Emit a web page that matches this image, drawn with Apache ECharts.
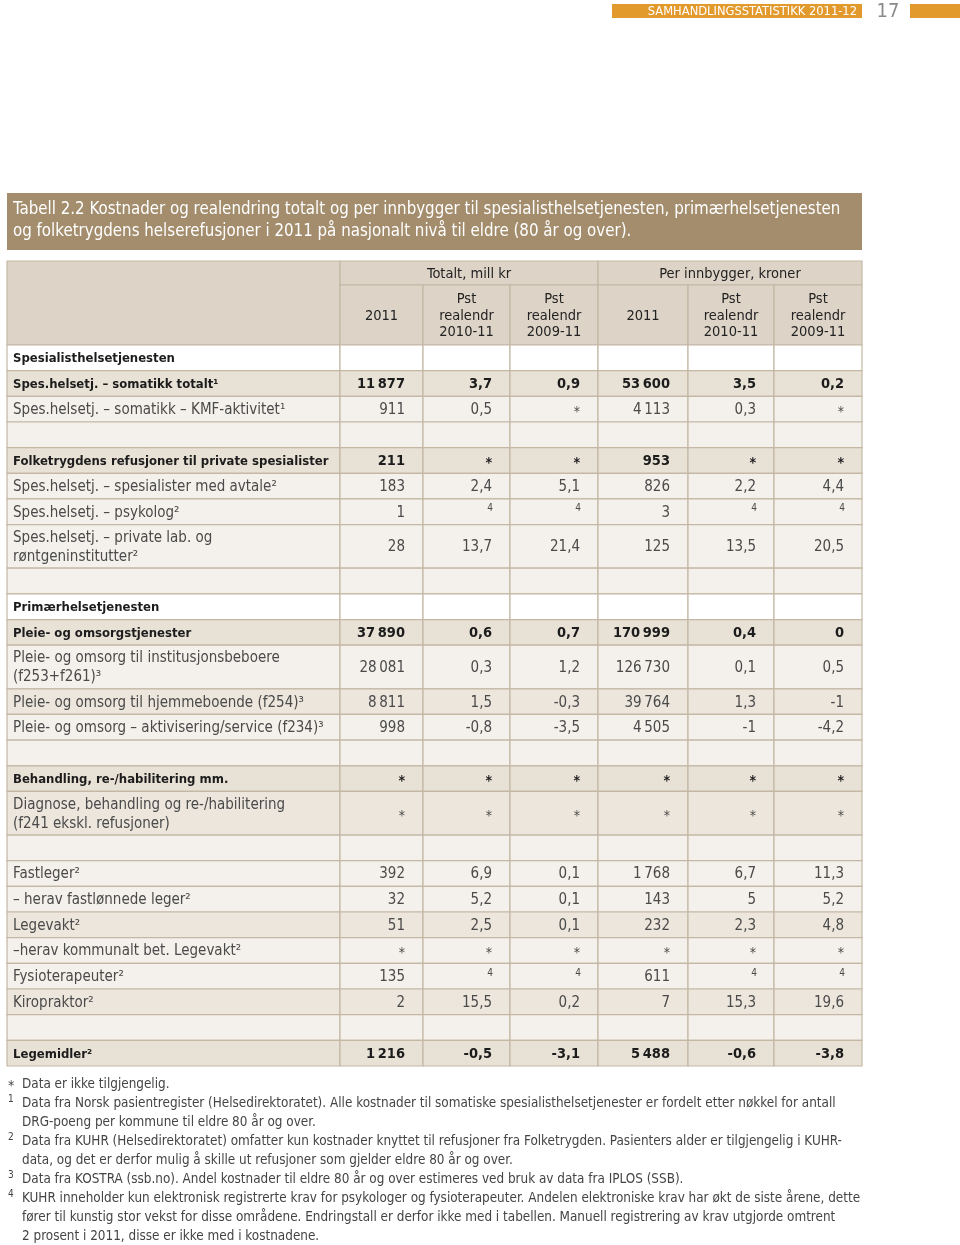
<!DOCTYPE html>
<html><head><meta charset="utf-8">
<script src="https://cdn.jsdelivr.net/npm/echarts@6/dist/echarts.min.js"></script>
<style>html,body{margin:0;padding:0;background:#fff}#c{width:960px;height:1245px}</style>
</head><body><div id="c"></div>
<script>
// ---------- DATA ----------
const pageHeader = 'SAMHANDLINGSSTATISTIKK 2011-12';
const pageNumber = '17';
const titleLines = [
  'Tabell 2.2 Kostnader og realendring totalt og per innbygger til spesialisthelsetjenesten, primærhelsetjenesten',
  'og folketrygdens helserefusjoner i 2011 på nasjonalt nivå til eldre (80 år og over).'
];
const headerGroups = ['Totalt, mill kr', 'Per innbygger, kroner'];
const columnHeaders = ['2011', 'Pst\nrealendr\n2010-11', 'Pst\nrealendr\n2009-11', '2011', 'Pst\nrealendr\n2010-11', 'Pst\nrealendr\n2009-11'];

const rowLabels = [
  'Spesialisthelsetjenesten',
  'Spes.helsetj. – somatikk totalt¹',
  'Spes.helsetj. – somatikk – KMF-aktivitet¹',
  '',
  'Folketrygdens refusjoner til private spesialister',
  'Spes.helsetj. – spesialister med avtale²',
  'Spes.helsetj. – psykolog²',
  'Spes.helsetj. – private lab. og\nrøntgeninstitutter²',
  '',
  'Primærhelsetjenesten',
  'Pleie- og omsorgstjenester',
  'Pleie- og omsorg til institusjonsbeboere\n(f253+f261)³',
  'Pleie- og omsorg til hjemmeboende (f254)³',
  'Pleie- og omsorg – aktivisering/service (f234)³',
  '',
  'Behandling, re-/habilitering mm.',
  'Diagnose, behandling og re-/habilitering\n(f241 ekskl. refusjoner)',
  '',
  'Fastleger²',
  '– herav fastlønnede leger²',
  'Legevakt²',
  '–herav kommunalt bet. Legevakt²',
  'Fysioterapeuter²',
  'Kiropraktor²',
  '',
  'Legemidler²'
];
// row kinds: sec = section heading, bold = sum row, norm = detail row, empty = spacer
const rowKinds = ['sec','bold','norm','empty','bold','norm','norm','norm','empty','sec','bold','norm','norm','norm','empty','bold','norm','empty','norm','norm','norm','norm','norm','norm','empty','bold'];
const rowShade = ['w','d','l','l','d','l','l','l','l','w','d','l','m','l','l','d','m','l','l','l','m','l','l','m','l','d'];

// '*' = data not available, 'n4' = footnote 4, null = empty
const total2011 =     [null, 11877, 911, null, 211, 183, 1, 28, null, null, 37890, 28081, 8811, 998, null, '*', '*', null, 392, 32, 51, '*', 135, 2, null, 1216];
const totalChg1011 =  [null, 3.7, 0.5, null, '*', 2.4, 'n4', 13.7, null, null, 0.6, 0.3, 1.5, -0.8, null, '*', '*', null, 6.9, 5.2, 2.5, '*', 'n4', 15.5, null, -0.5];
const totalChg0911 =  [null, 0.9, '*', null, '*', 5.1, 'n4', 21.4, null, null, 0.7, 1.2, -0.3, -3.5, null, '*', '*', null, 0.1, 0.1, 0.1, '*', 'n4', 0.2, null, -3.1];
const perCap2011 =    [null, 53600, 4113, null, 953, 826, 3, 125, null, null, 170999, 126730, 39764, 4505, null, '*', '*', null, 1768, 143, 232, '*', 611, 7, null, 5488];
const perCapChg1011 = [null, 3.5, 0.3, null, '*', 2.2, 'n4', 13.5, null, null, 0.4, 0.1, 1.3, -1, null, '*', '*', null, 6.7, 5, 2.3, '*', 'n4', 15.3, null, -0.6];
const perCapChg0911 = [null, 0.2, '*', null, '*', 4.4, 'n4', 20.5, null, null, 0, 0.5, -1, -4.2, null, '*', '*', null, 11.3, 5.2, 4.8, '*', 'n4', 19.6, null, -3.8];

const footMarks = ['*', '1', '', '2', '', '3', '4', '', ''];
const footLines = [
  'Data er ikke tilgjengelig.',
  'Data fra Norsk pasientregister (Helsedirektoratet). Alle kostnader til somatiske spesialisthelsetjenester er fordelt etter nøkkel for antall',
  'DRG-poeng per kommune til eldre 80 år og over.',
  'Data fra KUHR (Helsedirektoratet) omfatter kun kostnader knyttet til refusjoner fra Folketrygden. Pasienters alder er tilgjengelig i KUHR-',
  'data, og det er derfor mulig å skille ut refusjoner som gjelder eldre 80 år og over.',
  'Data fra KOSTRA (ssb.no). Andel kostnader til eldre 80 år og over estimeres ved bruk av data fra IPLOS (SSB).',
  'KUHR inneholder kun elektronisk registrerte krav for psykologer og fysioterapeuter. Andelen elektroniske krav har økt de siste årene, dette',
  'fører til kunstig stor vekst for disse områdene. Endringstall er derfor ikke med i tabellen. Manuell registrering av krav utgjorde omtrent',
  '2 prosent i 2011, disse er ikke med i kostnadene.'
];

// ---------- LAYOUT / STYLE ----------
const FONT = '"Liberation Sans Narrow", "DejaVu Sans Condensed", "Roboto Condensed", "Liberation Sans", sans-serif';
const colWidths = [333, 83, 87, 88, 90, 86, 88];
const headH = [24, 60];
const singleH = 25.66, doubleH = 43.6;
const fills = { h: '#ddd4c7', w: '#ffffff', d: '#e8e1d6', m: '#ece6dd', l: '#f4f1ec' };
const STROKE = '#c4b8a5';
const NORMAL_SIZE = 15, BOLD_SIZE = 13, BOLD_NUM_SIZE = 14.5, HEAD_SIZE = 14.5;

const valueCols = [total2011, totalChg1011, totalChg0911, perCap2011, perCapChg1011, perCapChg0911];
function fmt(v) {
  if (v === null || v === undefined) return '';
  if (typeof v === 'string') return v;
  if (Number.isInteger(v)) {
    const s = Math.abs(v).toString().replace(/\B(?=(\d{3})+(?!\d))/g, '\u2009');
    return (v < 0 ? '-' : '') + s;
  }
  return v.toString().replace('.', ',');
}

const colEdges = [0];
colWidths.forEach(w => colEdges.push(colEdges[colEdges.length - 1] + w));
const rowEdges = [0, headH[0], headH[0] + headH[1]];
rowLabels.forEach(l => rowEdges.push(rowEdges[rowEdges.length - 1] + (l.indexOf('\n') >= 0 ? doubleH : singleH)));
const totalW = colEdges[colEdges.length - 1];
const totalH = rowEdges[rowEdges.length - 1];

const cells = [];
// header cells
cells.push({ x0: 0, x1: colEdges[1], y0: 0, y1: rowEdges[2], fill: fills.h, text: '' });
headerGroups.forEach((g, gi) => {
  cells.push({ x0: colEdges[1 + gi * 3], x1: colEdges[4 + gi * 3], y0: 0, y1: rowEdges[1], fill: fills.h, text: g, align: 'center', weight: 'normal', color: '#222', size: HEAD_SIZE });
});
columnHeaders.forEach((h, ci) => {
  cells.push({ x0: colEdges[ci + 1], x1: colEdges[ci + 2], y0: rowEdges[1], y1: rowEdges[2], fill: fills.h, text: h, align: 'center', weight: 'normal', color: '#222', lh: 16.5, size: HEAD_SIZE });
});
// body cells
rowLabels.forEach((lab, r) => {
  const kind = rowKinds[r];
  const strong = kind === 'bold' || kind === 'sec';
  const fill = fills[rowShade[r]];
  const y0 = rowEdges[r + 2], y1 = rowEdges[r + 3];
  cells.push({ x0: 0, x1: colEdges[1], y0, y1, fill, text: lab, align: 'left', weight: strong ? 'bold' : 'normal', color: strong ? '#1c1c1c' : '#4a4a4a', lh: 19, size: strong ? BOLD_SIZE : NORMAL_SIZE });
  valueCols.forEach((col, ci) => {
    const v = col[r];
    cells.push({ x0: colEdges[ci + 1], x1: colEdges[ci + 2], y0, y1, fill, text: v === 'n4' ? '4' : fmt(v), note: v === 'n4', star: v === '*', align: 'right', weight: strong ? 'bold' : 'normal', color: strong ? '#1c1c1c' : '#4a4a4a', size: strong ? BOLD_NUM_SIZE : NORMAL_SIZE });
  });
});

function renderCell(params, api) {
  const c = cells[api.value(4)];
  const p0 = api.coord([api.value(0), api.value(2)]);
  const p1 = api.coord([api.value(1), api.value(3)]);
  const x = Math.min(p0[0], p1[0]), y = Math.min(p0[1], p1[1]);
  const w = Math.abs(p1[0] - p0[0]), h = Math.abs(p1[1] - p0[1]);
  const children = [{ type: 'rect', shape: { x, y, width: w, height: h }, style: { fill: c.fill, stroke: STROKE, lineWidth: 1.2 } }];
  if (c.text) {
    let tx = c.align === 'left' ? x + 6 : c.align === 'right' ? x + w - 18 : x + w / 2;
    let ty = y + h / 2 + 1;
    let size = c.size || NORMAL_SIZE;
    if (c.note) { size = 10; ty -= 4; tx += 1; }
    if (c.star) { ty += 2; size = Math.min(size, 14); }
    children.push({
      type: 'text',
      style: {
        text: c.text, x: tx, y: ty, align: c.align, verticalAlign: 'middle',
        fill: c.color, fontFamily: FONT, fontSize: size, fontWeight: c.weight,
        lineHeight: c.lh || size + 3
      }
    });
  }
  return { type: 'group', children };
}

// ---------- CHART ----------
const chart = echarts.init(document.getElementById('c'), null, { renderer: 'canvas' });
const graphics = [
  { type: 'rect', shape: { x: 612, y: 4, width: 250, height: 14 }, style: { fill: '#e39a2d' } },
  { type: 'text', style: { text: pageHeader, x: 857, y: 11.5, align: 'right', verticalAlign: 'middle', fill: '#fff', fontFamily: FONT, fontSize: 12.8 } },
  { type: 'text', style: { text: pageNumber, x: 888, y: 12, align: 'center', verticalAlign: 'middle', fill: '#8a8a8a', fontFamily: FONT, fontSize: 20 } },
  { type: 'rect', shape: { x: 910, y: 4, width: 50, height: 14 }, style: { fill: '#e39a2d' } },
  { type: 'rect', shape: { x: 7, y: 193, width: 855, height: 57 }, style: { fill: '#a38d6d' } },
  { type: 'text', style: { text: titleLines.join('\n'), x: 13, y: 199, align: 'left', verticalAlign: 'top', fill: '#fff', fontFamily: FONT, fontSize: 16.75, lineHeight: 21.5 } },
  { type: 'text', style: { text: footLines.join('\n'), x: 22, y: 1075, align: 'left', verticalAlign: 'top', fill: '#444', fontFamily: FONT, fontSize: 13.4, lineHeight: 19 } }
];
footMarks.forEach((m, i) => {
  if (!m) return;
  const star = m === '*';
  graphics.push({ type: 'text', style: { text: m, x: 8, y: 1084 + i * 19 + (star ? 2 : -4), align: 'left', verticalAlign: 'middle', fill: '#444', fontFamily: FONT, fontSize: star ? 14 : 10 } });
});

chart.setOption({
  animation: false,
  backgroundColor: '#ffffff',
  grid: { left: 7, top: 261, width: totalW, height: totalH },
  xAxis: { type: 'value', min: 0, max: totalW, show: false },
  yAxis: { type: 'value', min: 0, max: totalH, inverse: true, show: false },
  graphic: graphics,
  series: [{
    type: 'custom',
    silent: true,
    clip: false,
    renderItem: renderCell,
    encode: { x: [0, 1], y: [2, 3] },
    data: cells.map((c, i) => [c.x0, c.x1, c.y0, c.y1, i])
  }]
});
</script></body></html>
